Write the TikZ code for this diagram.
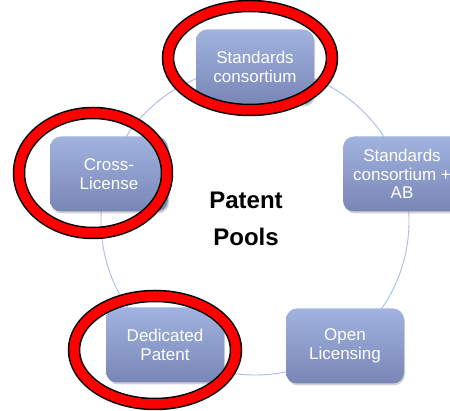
\documentclass[tikz,border=0pt]{standalone}
\usepackage{fontspec}
\setmainfont{Liberation Sans}
\usetikzlibrary{shadows}
\definecolor{anneau}{HTML}{AABBE4}
\definecolor{haut}{HTML}{A2B3DF}
\definecolor{bas}{HTML}{7886B6}
\begin{document}
\begin{tikzpicture}[x=1pt, y=1pt]
\tikzset{boite/.style={rounded corners=11pt, minimum width=118pt, minimum height=75pt, top color=haut, bottom color=bas, drop shadow={opacity=0.35, shadow xshift=1pt, shadow yshift=-2pt}, text=white, font=\fontsize{17}{18.5}\selectfont, align=center}}
\tikzset{cercle/.style={line width=12.5pt, draw=black}}
\tikzset{cerclerouge/.style={line width=9.5pt, draw=red}}
\clip (0, 0) rectangle (450, 411);
\fill[white] (0, 0) rectangle (450, 411);
\draw[anneau, line width=0.9pt] (255, 190) circle (154);
\node[boite] (P1) at (255, 344) {Standards\\consortium};
\node[boite] (P2) at (402, 237) {Standards\\consortium +\\AB};
\node[boite] (P3) at (345, 65) {Open\\Licensing};
\node[boite] (P4) at (165, 66) {Dedicated\\Patent};
\node[boite] (P5) at (109, 237) {Cross-\\License};
\node[font=\bfseries\fontsize{24}{37}\selectfont, align=center] (titre) at (246, 192) {Patent\\Pools};
\draw[cercle] (250, 353) ellipse (82 and 52);
\draw[cerclerouge] (250, 353) ellipse (82 and 52);
\draw[cercle] (93, 238) ellipse (74 and 60);
\draw[cerclerouge] (93, 238) ellipse (74 and 60);
\draw[cercle] (155, 61) ellipse (81 and 54);
\draw[cerclerouge] (155, 61) ellipse (81 and 54);
\end{tikzpicture}
\end{document}
